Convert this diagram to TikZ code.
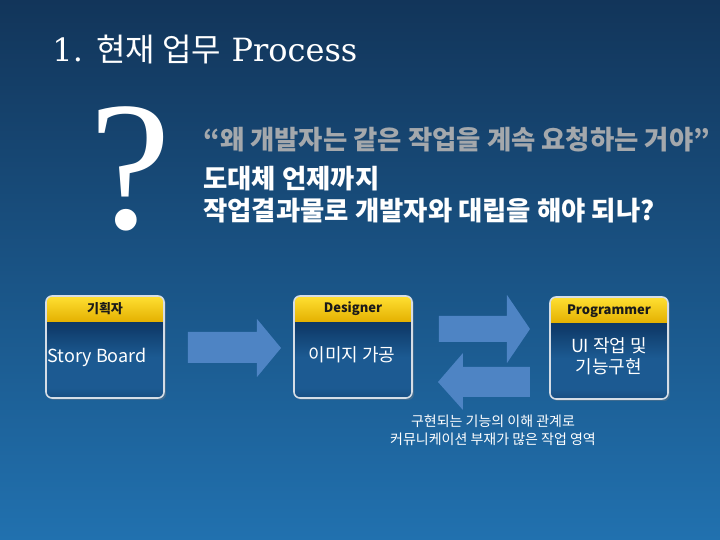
\documentclass[tikz,border=0pt]{standalone}
\usepackage{fontspec}
\setmainfont{DejaVu Serif}
\newfontfamily\cjk{Noto Sans CJK KR}
\newfontfamily\qfont{Liberation Serif}
\usetikzlibrary{positioning,shadows}
\definecolor{bgtop}{HTML}{12355A}
\definecolor{bgbot}{HTML}{2171AF}
\definecolor{bxbot}{HTML}{061A35}
\definecolor{bxlow}{HTML}{0B2D55}
\definecolor{bxband}{HTML}{1C5A92}
\definecolor{bxup}{HTML}{0F3B6A}
\definecolor{bxtop}{HTML}{0A2A4E}
\definecolor{hdrtop}{HTML}{FFE033}
\definecolor{hdrbot}{HTML}{E4B000}
\definecolor{hdrtxt}{HTML}{1A1A1A}
\definecolor{arrowblue}{HTML}{4E84C4}
\definecolor{quotegray}{HTML}{A4A8AC}
\definecolor{rimgray}{HTML}{D5DDE6}
% body of a role box: dark, with a lit band across the middle
\pgfdeclareverticalshading{boxbody}{100bp}{
  color(0bp)=(bxbot); color(12bp)=(bxlow); color(30bp)=(bxband);
  color(45bp)=(bxband); color(60bp)=(bxup); color(75bp)=(bxtop);
  color(100bp)=(bxtop)}
\tikzset{
  titletxt/.style={anchor=base west, text=white, inner sep=0pt,
    font=\fontsize{16}{19}\selectfont},
  qmark/.style={anchor=base, text=white, inner sep=0pt,
    font=\qfont\fontsize{92}{92}\selectfont},
  quote/.style={anchor=base west, text=white, inner sep=0pt,
    font=\cjk\bfseries\fontsize{13.2}{15}\selectfont},
  % a role box
  task/.style={rounded corners=3pt, minimum width=59pt, minimum height=51pt,
    inner sep=0pt, outer sep=0pt, shading=boxbody,
    drop shadow={opacity=0.35, shadow xshift=1pt, shadow yshift=-1pt}},
  rim/.style={draw=rimgray, line width=0.8pt, rounded corners=3pt},
  headtxt/.style={text=hdrtxt, font=\cjk\bfseries\fontsize{6.5}{8}\selectfont},
  bodytxt/.style={text=white, align=center, font=\cjk\fontsize{9}{10.5}\selectfont},
  notetxt/.style={text=white, align=center, font=\cjk\fontsize{7}{9}\selectfont},
  flowarrow/.style={fill=arrowblue},
}
\begin{document}
\begin{tikzpicture}[x=0.5pt,y=-0.5pt]
  \useasboundingbox (0,0) rectangle (720,540);
  \shade[top color=bgtop, bottom color=bgbot] (0,0) rectangle (720,540);
  % title and the question
  \node[titletxt] (title) at (52,62) {1. {\cjk 현재 업무} Process};
  \node[qmark] (qm) at (130,229) {?};
  \node[quote, text=quotegray] (q1) at (203,150) {“왜 개발자는 같은 작업을 계속 요청하는 거야”};
  \node[quote] (q2) at (203,189) {도대체 언제까지};
  \node[quote] (q3) at (203,221) {작업결과물로 개발자와 대립을 해야 되나?};
  % the three roles
  \node[task] (sb) at (105,347) {};
  \node[task] (ds) at (353,347) {};
  \node[task] (pg) at (609,348) {};
  \foreach \b in {sb,ds,pg}{
    \begin{scope}
      \clip[rounded corners=3pt] (\b.north west) rectangle (\b.south east);
      \shade[top color=hdrtop, bottom color=hdrbot]
        (\b.north west) rectangle ([yshift=-13pt]\b.north east);
    \end{scope}
    \draw[rim] (\b.north west) rectangle (\b.south east);
  }
  \node[headtxt] (sbh) at ([yshift=-6.5pt]sb.north) {기획자};
  \node[headtxt] (dsh) at ([yshift=-6.5pt]ds.north) {Designer};
  \node[headtxt] (pgh) at ([yshift=-7pt]pg.north) {Programmer};
  \node[bodytxt] (sbt) at (97,357) {Story Board};
  \node[bodytxt] (dst) at (352,355) {이미지 가공};
  \node[bodytxt] (pgt) at (609,356) {UI 작업 및\\기능구현};
  % block arrows
  \fill[flowarrow] (188,332) -- (257,332) -- (257,319) -- (281,348)
    -- (257,377) -- (257,363) -- (188,363) -- cycle;
  \fill[flowarrow] (439,316) -- (507,316) -- (507,295) -- (530,329)
    -- (507,363) -- (507,342) -- (439,342) -- cycle;
  \fill[flowarrow] (530,367) -- (463,367) -- (463,353) -- (438,382)
    -- (463,410) -- (463,397) -- (530,397) -- cycle;
  \node[notetxt] (gap) at (493,430) {구현되는 기능의 이해 관계로\\커뮤니케이션 부재가 많은 작업 영역};
\end{tikzpicture}
\end{document}
